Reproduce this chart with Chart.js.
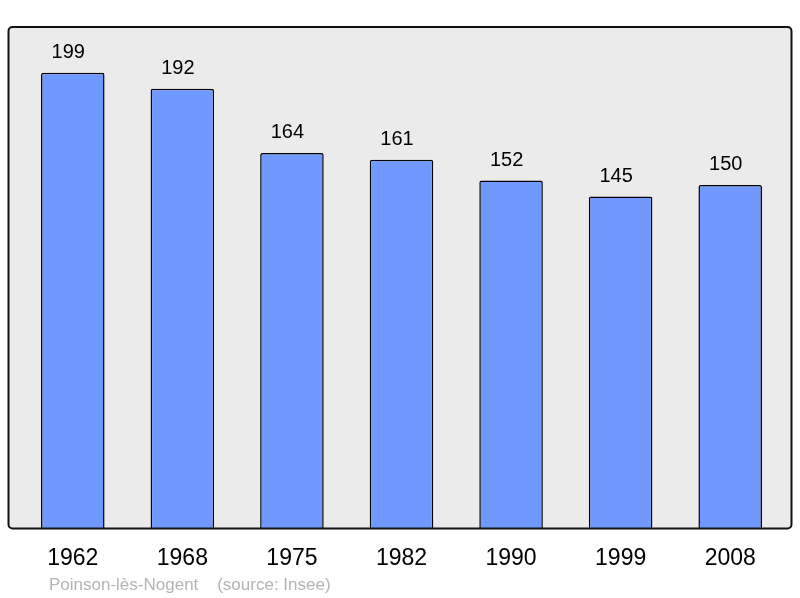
<!DOCTYPE html>
<html>
<head>
<meta charset="utf-8">
<script src="https://cdn.jsdelivr.net/npm/chart.js@4"></script>
<style>
  body { margin: 0; background: #fff; }
  #wrap { position: relative; width: 800px; height: 598px; }
  #note {
    position: absolute; left: 49px; top: 575px;
    font-family: "Liberation Sans", Arial, sans-serif; font-size: 17px;
    color: #b4b4b4; white-space: pre;
  }
</style>
</head>
<body>
<div id="wrap">
  <canvas id="myChart" width="800" height="598"></canvas>
  <div id="note">Poinson-lès-Nogent    (source: Insee)</div>
</div>
<script>
// données
var years = ['1962', '1968', '1975', '1982', '1990', '1999', '2008'];
var population = [199, 192, 164, 161, 152, 145, 150];
var yMax = 219;

// cadre gris autour de la zone du graphique
var framePlugin = {
    id: 'frame',
    beforeDraw: function(chart) {
        var a = chart.chartArea, c = chart.ctx;
        c.save();
        c.beginPath();
        c.roundRect(a.left - 9.5, a.top, a.right - a.left + 16, a.bottom - a.top, 4);
        c.fillStyle = '#ebebeb';
        c.fill();
        c.restore();
    },
    afterDatasetsDraw: function(chart) {
        var a = chart.chartArea, c = chart.ctx;
        c.save();
        c.beginPath();
        c.roundRect(a.left - 9.5, a.top, a.right - a.left + 16, a.bottom - a.top, 4);
        c.lineWidth = 2;
        c.strokeStyle = '#111';
        c.stroke();
        // valeurs au-dessus des barres (un peu décalées à gauche comme l'original)
        var meta = chart.getDatasetMeta(0);
        c.font = '20px "Liberation Sans", Arial, sans-serif';
        c.fillStyle = '#000';
        c.textAlign = 'center';
        c.textBaseline = 'middle';
        meta.data.forEach(function(bar, i) {
            c.fillText(population[i], bar.x - 4.5, bar.y - 20);
        });
        c.restore();
    }
};

var ctx = document.getElementById('myChart').getContext('2d');
var myChart = new Chart(ctx, {
    type: 'bar',
    data: {
        labels: years,
        datasets: [{
            data: population,
            backgroundColor: '#7099ff',
            borderColor: '#000',
            borderWidth: 1.5,
            borderRadius: 2,
            borderSkipped: 'bottom',
            categoryPercentage: 1,
            barPercentage: 0.58
        }]
    },
    options: {
        responsive: false,
        animation: false,
        layout: { padding: { left: 18, right: 15, top: 27, bottom: 10 } },
        plugins: {
            legend: { display: false },
            tooltip: { enabled: false }
        },
        scales: {
            y: { display: false, min: 0, max: yMax },
            x: {
                grid: { display: false, drawTicks: false },
                border: { display: false },
                ticks: {
                    padding: 16,
                    color: '#000',
                    font: { family: '"Liberation Sans", Arial, sans-serif', size: 23 }
                }
            }
        }
    },
    plugins: [framePlugin]
});
</script>
</body>
</html>
